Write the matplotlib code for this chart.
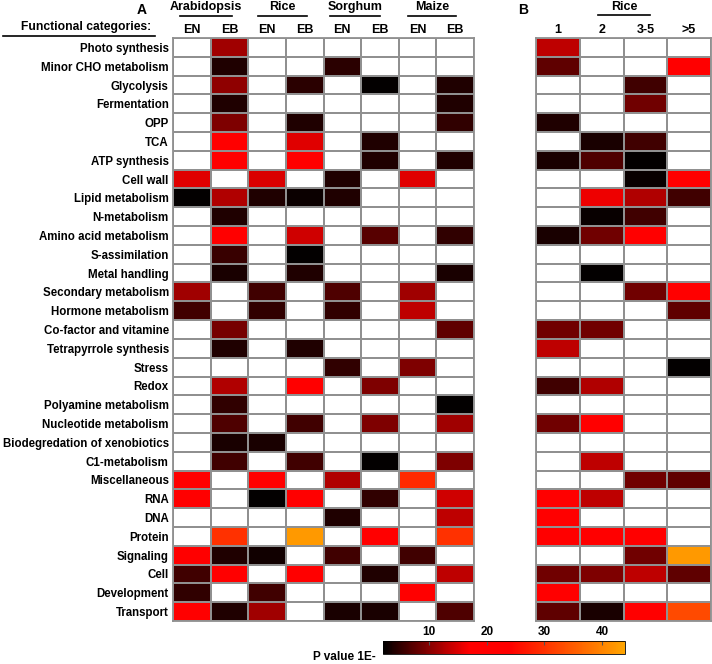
import matplotlib.pyplot as plt
import numpy as np
from matplotlib.colors import LinearSegmentedColormap
from matplotlib.lines import Line2D

plt.rcParams['font.family'] = ['Liberation Sans', 'DejaVu Sans']
plt.rcParams['font.weight'] = 'bold'

categories = ["Photo synthesis", "Minor CHO metabolism", "Glycolysis", "Fermentation", "OPP",
              "TCA", "ATP synthesis", "Cell wall", "Lipid metabolism", "N-metabolism",
              "Amino acid metabolism", "S-assimilation", "Metal handling", "Secondary metabolism",
              "Hormone metabolism", "Co-factor and vitamine", "Tetrapyrrole synthesis", "Stress",
              "Redox", "Polyamine metabolism", "Nucleotide metabolism",
              "Biodegredation of xenobiotics", "C1-metabolism", "Miscellaneous", "RNA", "DNA",
              "Protein", "Signaling", "Cell", "Development", "Transport"]

species = ["Arabidopsis", "Rice", "Sorghum", "Maize"]
cols_a = ["EN", "EB"] * 4
cols_b = ["1", "2", "3-5", ">5"]

# -log10 p values, 0 = not enriched (white)
values_a = [
    [0, 11.4, 0, 0, 0, 0, 0, 0],
    [0, 3.9, 0, 0, 4.5, 0, 0, 0],
    [0, 10.5, 0, 4.5, 0, 2.3, 0, 3.9],
    [0, 3.9, 0, 0, 0, 0, 0, 3.9],
    [0, 9.5, 0, 3.9, 0, 0, 0, 4.8],
    [0, 20, 0, 15.2, 0, 3.9, 0, 0],
    [0, 20, 0, 20, 0, 3.9, 0, 3.9],
    [15.2, 0, 14.8, 0, 3.9, 0, 15.2, 0],
    [2.3, 12.4, 3.9, 2.8, 3.9, 0, 0, 0],
    [0, 3.9, 0, 0, 0, 0, 0, 0],
    [0, 20, 0, 14.2, 0, 7.2, 0, 4.8],
    [0, 5.3, 0, 2.3, 0, 0, 0, 0],
    [0, 3.5, 0, 3.9, 0, 0, 0, 3.5],
    [11.4, 0, 5.8, 0, 6.7, 0, 11.4, 0],
    [5.8, 0, 4.8, 0, 4.8, 0, 13.3, 0],
    [0, 9.0, 0, 0, 0, 0, 0, 7.6],
    [0, 3.9, 0, 3.9, 0, 0, 0, 0],
    [0, 0, 0, 0, 4.8, 0, 9.5, 0],
    [0, 12.4, 0, 20, 0, 9.5, 0, 0],
    [0, 4.8, 0, 0, 0, 0, 0, 2.3],
    [0, 6.7, 0, 5.8, 0, 9.5, 0, 11.4],
    [0, 3.5, 3.5, 0, 0, 0, 0, 0],
    [0, 5.8, 0, 5.8, 0, 2.3, 0, 9.5],
    [20, 0, 19, 0, 12.4, 0, 29, 0],
    [20, 0, 2.3, 20, 0, 4.8, 0, 14.2],
    [0, 0, 0, 0, 3.9, 0, 0, 13.3],
    [0, 30, 0, 42.5, 0, 20, 0, 30],
    [20, 3.9, 3.0, 0, 5.8, 0, 5.8, 0],
    [5.8, 20, 0, 20, 0, 3.9, 0, 13.3],
    [4.8, 0, 5.8, 0, 0, 0, 20, 0],
    [20, 3.9, 11.4, 0, 3.5, 3.5, 0, 6.7],
]

values_b = [
    [13.3, 0, 0, 0],
    [7.6, 0, 0, 20],
    [0, 0, 5.8, 0],
    [0, 0, 8.6, 0],
    [3.9, 0, 0, 0],
    [0, 3.5, 5.8, 0],
    [3.5, 6.7, 2.3, 0],
    [0, 0, 2.5, 20],
    [0, 16, 12.4, 5.8],
    [0, 2.5, 5.8, 0],
    [3.5, 8.6, 20, 0],
    [0, 0, 0, 0],
    [0, 2.3, 0, 0],
    [0, 0, 8.6, 20],
    [0, 0, 0, 7.6],
    [8.6, 8.6, 0, 0],
    [13.3, 0, 0, 0],
    [0, 0, 0, 2.3],
    [5.8, 12.4, 0, 0],
    [0, 0, 0, 0],
    [8.6, 20, 0, 0],
    [0, 0, 0, 0],
    [0, 13.3, 0, 0],
    [0, 0, 8.6, 7.6],
    [20, 13.3, 0, 0],
    [20, 0, 0, 0],
    [20, 20, 20, 0],
    [0, 0, 8.6, 42.5],
    [8.6, 9.5, 13.3, 7.6],
    [20, 0, 0, 0],
    [7.6, 3.5, 18, 33],
]

vmin, vmax = 2, 44
cmap = LinearSegmentedColormap.from_list(
    "pv", [(0, "black"), ((17 - vmin) / (vmax - vmin), "#ff0000"),
           ((24 - vmin) / (vmax - vmin), "#ff0000"), (1, "#ffa500")])
cmap.set_bad("white")

W, H = 712, 664
fig = plt.figure(figsize=(W / 100, H / 100), dpi=100)


def fx(x):
    return x / W


def fy(y):
    return 1 - y / H


def heat(x0, x1, data, collabels):
    ax = fig.add_axes([fx(x0), fy(621), fx(x1) - fx(x0), (621 - 38) / H])
    arr = np.ma.masked_equal(np.array(data, dtype=float), 0)
    ax.pcolormesh(arr, cmap=cmap, vmin=vmin, vmax=vmax,
                  edgecolors="#909090", linewidth=1.3)
    ax.set_xlim(0, arr.shape[1])
    ax.set_ylim(arr.shape[0], 0)
    for s in ax.spines.values():
        s.set_color("#909090")
        s.set_linewidth(1.3)
    ax.xaxis.tick_top()
    ax.set_xticks(np.arange(arr.shape[1]) + 0.5)
    ax.set_xticklabels(collabels, fontsize=9, fontweight="bold")
    ax.tick_params(length=0, pad=1.5)
    return ax


ax_a = heat(173, 474, values_a, cols_a)
ax_a.set_yticks(np.arange(len(categories)) + 0.5)
ax_a.set_yticklabels(categories, fontsize=8.3, fontweight="bold")
ax_a.tick_params(axis="y", pad=3)

ax_b = heat(536, 711, values_b, cols_b)
ax_b.set_yticks([])

# headers
fig.text(fx(142), fy(10), "A", fontsize=10, fontweight="bold", ha="center", va="center")
fig.text(fx(523), fy(10), "B", fontsize=10, fontweight="bold", ha="center", va="center")
fig.text(fx(86), fy(27), "Functional categories:", fontsize=8.7, fontweight="bold",
         ha="center", va="center")
fig.add_artist(Line2D([fx(3), fx(155)], [fy(36), fy(36)], color="black", lw=1.2))

group_x = [(180, 232), (258, 307), (330, 380), (408, 456)]
for name, (a, b) in zip(species, group_x):
    fig.text(fx((a + b) / 2), fy(7), name, fontsize=9, fontweight="bold",
             ha="center", va="center")
    fig.add_artist(Line2D([fx(a), fx(b)], [fy(16), fy(16)], color="black", lw=1.2))

fig.text(fx(624), fy(7), "Rice", fontsize=9, fontweight="bold", ha="center", va="center")
fig.add_artist(Line2D([fx(598), fx(650)], [fy(15), fy(15)], color="black", lw=1.2))

# colorbar
cax = fig.add_axes([fx(383), fy(654), fx(625) - fx(383), 13 / H])
sm = plt.cm.ScalarMappable(cmap=cmap, norm=plt.Normalize(vmin, vmax))
cb = fig.colorbar(sm, cax=cax, orientation="horizontal", ticklocation="top")
cb.set_ticks([10, 20, 30, 40])
cb.ax.tick_params(labelsize=8.5, length=3, direction="in", color="#555555", pad=2)
cb.outline.set_linewidth(0.6)
fig.text(fx(313), fy(657), "P value 1E-", fontsize=8.5, fontweight="bold",
         ha="left", va="center")

fig.savefig("out.png", dpi=100)
